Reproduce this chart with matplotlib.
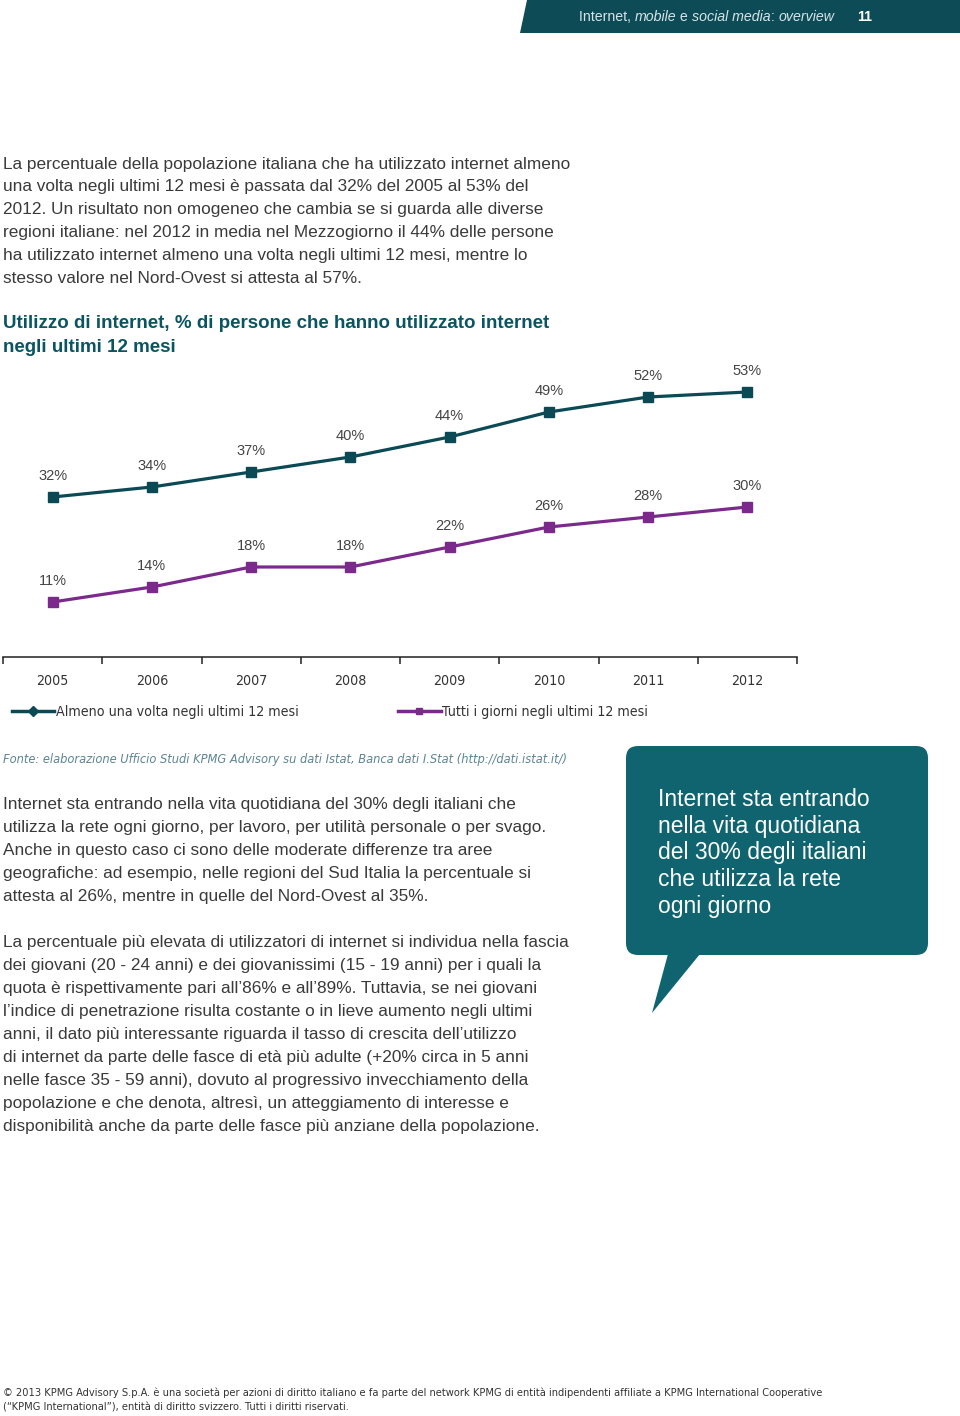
import matplotlib
matplotlib.use('Agg')

import matplotlib.pyplot as plt
from matplotlib.patches import Polygon, FancyBboxPatch
from matplotlib.lines import Line2D

plt.rcParams.update({
    'font.family': ['Liberation Sans', 'DejaVu Sans'],
    'axes.linewidth': 1.1,
})

# dati
years = ['2005', '2006', '2007', '2008', '2009', '2010', '2011', '2012']
almeno_una_volta = [32, 34, 37, 40, 44, 49, 52, 53]
tutti_i_giorni = [11, 14, 18, 18, 22, 26, 28, 30]
series_names = ['Almeno una volta negli ultimi 12 mesi', 'Tutti i giorni negli ultimi 12 mesi']

TEAL = '#0b4a55'
PURPLE = '#7b2a8c'
BOX = '#0f6470'
GREY = '#3a3a3a'
COND = dict(family='DejaVu Sans', stretch='condensed')

W, H = 960, 1416
fig = plt.figure(figsize=(W / 100, H / 100), dpi=100)

# pagina in pixel
bg = fig.add_axes([0, 0, 1, 1])
bg.set_xlim(0, W)
bg.set_ylim(H, 0)
bg.axis('off')

# testata
bg.add_patch(Polygon([(520, 33), (527, 0), (W, 0), (W, 33)], closed=True,
                     color='#0d4b56', lw=0))
renderer = fig.canvas.get_renderer()
x = 579
for s, st in [('Internet, ', 'normal'), ('mobile', 'italic'), (' e ', 'normal'),
              ('social media', 'italic'), (': ', 'normal'), ('overview', 'italic')]:
    t = bg.text(x, 17, s, fontsize=10.2, style=st, color='#d5e6e8', va='center', ha='left')
    x += t.get_window_extent(renderer).width
bg.text(857, 17, '11', fontsize=10.2, weight='bold', color='white', va='center')

body1 = [
    'La percentuale della popolazione italiana che ha utilizzato internet almeno',
    'una volta negli ultimi 12 mesi è passata dal 32% del 2005 al 53% del',
    '2012. Un risultato non omogeneo che cambia se si guarda alle diverse',
    'regioni italiane: nel 2012 in media nel Mezzogiorno il 44% delle persone',
    'ha utilizzato internet almeno una volta negli ultimi 12 mesi, mentre lo',
    'stesso valore nel Nord-Ovest si attesta al 57%.',
]
body2 = [
    'Internet sta entrando nella vita quotidiana del 30% degli italiani che',
    'utilizza la rete ogni giorno, per lavoro, per utilità personale o per svago.',
    'Anche in questo caso ci sono delle moderate differenze tra aree',
    'geografiche: ad esempio, nelle regioni del Sud Italia la percentuale si',
    'attesta al 26%, mentre in quelle del Nord-Ovest al 35%.',
]
body3 = [
    'La percentuale più elevata di utilizzatori di internet si individua nella fascia',
    'dei giovani (20 - 24 anni) e dei giovanissimi (15 - 19 anni) per i quali la',
    'quota è rispettivamente pari all’86% e all’89%. Tuttavia, se nei giovani',
    'l’indice di penetrazione risulta costante o in lieve aumento negli ultimi',
    'anni, il dato più interessante riguarda il tasso di crescita dell’utilizzo',
    'di internet da parte delle fasce di età più adulte (+20% circa in 5 anni',
    'nelle fasce 35 - 59 anni), dovuto al progressivo invecchiamento della',
    'popolazione e che denota, altresì, un atteggiamento di interesse e',
    'disponibilità anche da parte delle fasce più anziane della popolazione.',
]
for lines, y0 in [(body1, 164), (body2, 805), (body3, 943)]:
    for i, s in enumerate(lines):
        bg.text(3, y0 + i * 22.9, s, fontsize=12.4, color=GREY, va='center')

# titolo
bg.text(3, 324, 'Utilizzo di internet, % di persone che hanno utilizzato internet',
        fontsize=13.5, weight='bold', color='#0a5562', va='center')
bg.text(3, 347, 'negli ultimi 12 mesi', fontsize=13.5, weight='bold', color='#0a5562', va='center')

# fonte
bg.text(3, 760, 'Fonte: elaborazione Ufficio Studi KPMG Advisory su dati Istat, Banca dati I.Stat (http://dati.istat.it/)',
        fontsize=9.2, style='italic', color='#5d8594', va='center', **COND)

# box citazione
bg.add_patch(FancyBboxPatch((626, 746), 302, 209, boxstyle='round,pad=0,rounding_size=12',
                            color=BOX, lw=0))
bg.add_patch(Polygon([(668, 954), (700, 954), (652, 1013)], closed=True, color=BOX, lw=0))
quote = ['Internet sta entrando', 'nella vita quotidiana', 'del 30% degli italiani',
         'che utilizza la rete', 'ogni giorno']
for i, s in enumerate(quote):
    bg.text(658, 800 + i * 26.5, s, fontsize=16.5, color='white', va='center')

# piè di pagina
bg.text(3, 1393, '© 2013 KPMG Advisory S.p.A. è una società per azioni di diritto italiano e fa parte del network '
        'KPMG di entità indipendenti affiliate a KPMG International Cooperative',
        fontsize=7.95, color='#333333', va='center', **COND)
bg.text(3, 1408, '(“KPMG International”), entità di diritto svizzero. Tutti i diritti riservati.',
        fontsize=7.95, color='#333333', va='center', **COND)

# grafico
ax = fig.add_axes([3 / W, 1 - 657 / H, 794 / W, 300 / H])
ax.patch.set_alpha(0)
xs = range(len(years))
ax.plot(xs, almeno_una_volta, color=TEAL, lw=2.3, marker='s', ms=7, zorder=3)
ax.plot(xs, tutti_i_giorni, color=PURPLE, lw=2.3, marker='s', ms=7, zorder=3)
for vals in (almeno_una_volta, tutti_i_giorni):
    for i, v in enumerate(vals):
        ax.annotate(f'{v}%', (i, v), xytext=(0, 15), textcoords='offset points',
                    ha='center', va='center', fontsize=10.5, color='#444444')

ax.set_xlim(-0.5, len(years) - 0.5)
ax.set_ylim(0, 60)
for side in ('top', 'right', 'left'):
    ax.spines[side].set_visible(False)
ax.spines['bottom'].set_color('#222222')
ax.set_yticks([])
ax.set_xticks([i - 0.5 for i in range(len(years) + 1)])
ax.set_xticklabels([])
ax.tick_params(axis='x', which='major', length=5, width=1.1, color='#222222')
ax.set_xticks(list(xs), minor=True)
ax.set_xticklabels(years, minor=True, fontsize=10.2, color='#333333', **COND)
ax.tick_params(axis='x', which='minor', length=0, pad=12)

# legenda
legprop = {'family': 'DejaVu Sans', 'stretch': 'condensed', 'size': 10.2}
h1 = Line2D([], [], color=TEAL, lw=2.5, marker='D', ms=5)
h2 = Line2D([], [], color=PURPLE, lw=2.5, marker='s', ms=5)
leg1 = ax.legend([h1], [series_names[0]], loc='center left', bbox_to_anchor=(12 / W, 1 - 712 / H),
                 bbox_transform=fig.transFigure, frameon=False, handlelength=3.0, handletextpad=0.1,
                 prop=legprop, borderaxespad=0, borderpad=0)
for t in leg1.get_texts():
    t.set_color('#333333')
ax.add_artist(leg1)
leg2 = ax.legend([h2], [series_names[1]], loc='center left', bbox_to_anchor=(398 / W, 1 - 712 / H),
                 bbox_transform=fig.transFigure, frameon=False, handlelength=3.0, handletextpad=0.1,
                 prop=legprop, borderaxespad=0, borderpad=0)
for t in leg2.get_texts():
    t.set_color('#333333')

fig.savefig('out.png', dpi=100)
